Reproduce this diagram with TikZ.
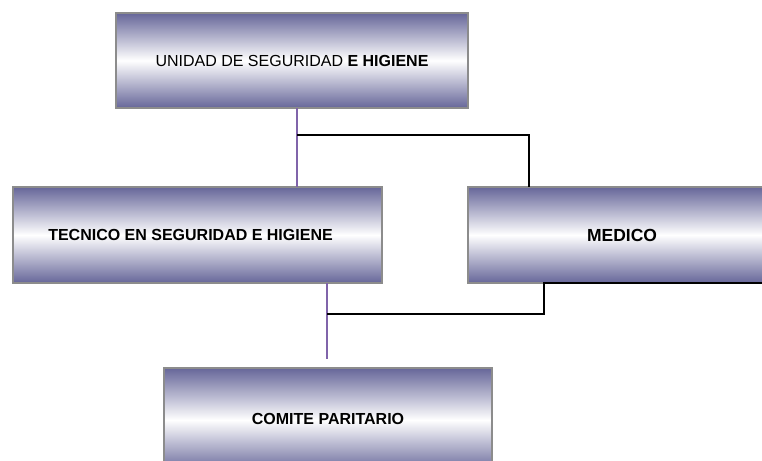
\documentclass[tikz,border=0pt]{standalone}
\usepackage{fontspec}
\setmainfont{Liberation Sans}

\definecolor{slate}{RGB}{102,102,153}
\definecolor{framegray}{RGB}{140,140,140}
\definecolor{linkpurple}{RGB}{128,100,170}

\tikzstyle{unit}=[draw=framegray,line width=2pt,rectangle,inner sep=0pt,outer sep=0pt,top color=slate,bottom color=slate,middle color=white,font=\fontsize{16}{19}\selectfont]
\tikzstyle{plink}=[draw=linkpurple,line width=1.4pt]
\tikzstyle{blink}=[draw=black,line width=1.4pt]

\begin{document}
\begin{tikzpicture}[x=1pt,y=-1pt]
\useasboundingbox (0,0) rectangle (762,460);
\clip (0,0) rectangle (762,460);

% junction points of the connectors
\coordinate (j-1) at (297,135);
\coordinate (m-1) at (529,135);
\coordinate (j-2) at (327,314);
\coordinate (m-2) at (544,314);
\coordinate (c-1) at (327,359);

% boxes
\node[unit,minimum width=352pt,minimum height=95pt] (unidad) at (292,60.5) {\raisebox{-4.5pt}{UNIDAD DE SEGURIDAD \textbf{E HIGIENE}}};
\node[unit,minimum width=369pt,minimum height=96pt] (tecnico) at (197.5,235) {\textbf{TECNICO EN SEGURIDAD E HIGIENE}\hspace*{14pt}};
\node[unit,minimum width=308pt,minimum height=96pt,font=\fontsize{17.5}{20}\selectfont] (medico) at (622,235) {\textbf{MEDICO}};
\node[unit,minimum width=328pt,minimum height=104pt] (comite) at (328,420) {\raisebox{3pt}{\textbf{COMITE PARITARIO}}};

% connectors from the top box
\draw[plink] (j-1 |- unidad.south) -- (j-1 |- tecnico.north);
\draw[blink] (j-1) -- (m-1) -- (m-1 |- medico.north);

% connectors to the bottom box
\draw[plink] (j-2 |- tecnico.south) -- (c-1);
\draw[blink] (medico.south east) -- (m-2 |- medico.south) -- (m-2) -- (j-2);

\end{tikzpicture}
\end{document}
